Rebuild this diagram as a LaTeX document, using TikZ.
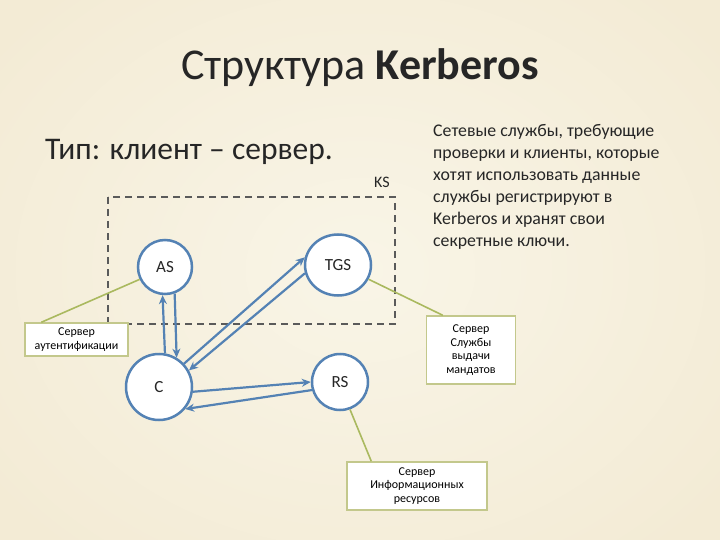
\documentclass[tikz,border=0pt]{standalone}
\usepackage{fontspec}
\setmainfont{Carlito}
\usetikzlibrary{arrows.meta,shapes.geometric}
\definecolor{bg}{RGB}{243,235,213}
\definecolor{bgc}{RGB}{249,245,231}
\definecolor{nodeblue}{RGB}{84,130,180}
\definecolor{olive}{RGB}{170,185,95}
\definecolor{boxborder}{RGB}{195,200,140}
\definecolor{txt}{RGB}{38,38,38}
\definecolor{dashgray}{RGB}{90,90,90}
\begin{document}
\begin{tikzpicture}[x=1pt,y=-1pt,
  srv/.style={ellipse, draw=nodeblue, line width=2.5pt, fill=white, text=txt,
    font=\fontsize{17}{19}\selectfont, inner sep=0pt},
  arr/.style={draw=nodeblue, line width=2.2pt, -{Stealth[length=9pt,width=8pt]}},
  callout/.style={draw=boxborder, line width=1.4pt, fill=white, text=black,
    font=\fontsize{12}{13.5}\selectfont, align=center, inner sep=1pt},
  lead/.style={draw=olive, line width=1.6pt}]
\useasboundingbox (0,0) rectangle (720,540);
\shade[inner color=bgc, outer color=bg] (-100,-100) rectangle (820,640);

% title and subtitle
\node[text=txt, font=\fontsize{44}{50}\selectfont] (title) at (360,68) {Структура \textbf{Kerberos}};
\node[text=txt, anchor=west, font=\fontsize{31.5}{36}\selectfont, inner sep=0pt] (type) at (45,152) {Тип: клиент – сервер.};

% right text block
\node[text=txt, anchor=north west, align=left, inner sep=0pt,
  font=\fontsize{17.8}{22}\selectfont] (desc) at (433,124)
  {Сетевые службы, требующие\\проверки и клиенты, которые\\хотят использовать данные\\службы регистрируют в\\Kerberos и хранят свои\\секретные ключи.};

% KS dashed region
\draw[draw=dashgray, line width=1.8pt, dash pattern=on 7pt off 5pt] (108,197) rectangle (395,324);
\node[text=txt, font=\fontsize{16}{18}\selectfont] (ks) at (382,182) {KS};

% servers
\node[srv, minimum width=54pt, minimum height=54pt] (AS) at (165,267) {AS};
\node[srv, minimum width=66pt, minimum height=61pt] (TGS) at (338,265) {TGS};
\node[srv, minimum width=66pt, minimum height=66pt] (C) at (159,387) {C};
\node[srv, minimum width=56pt, minimum height=56pt] (RS) at (340,382) {RS};

% arrows
\draw[arr] (C.80) -- (AS.265);
\draw[arr] (AS.290) -- (C.59);
\draw[arr] (C.43) -- (TGS.167);
\draw[arr] (TGS.194) -- (C.29);
\draw[arr] (C.-8) -- (RS.180);
\draw[arr] (RS.196) -- (C.-40);

% callouts
\node[callout, minimum width=103pt, minimum height=33pt] (authbox) at (76.5,339.5) {Сервер\\аутентификации};
\node[callout, minimum width=89pt, minimum height=68pt] (tgsbox) at (471,350) {Сервер\\Службы\\выдачи\\мандатов};
\node[callout, minimum width=140pt, minimum height=48pt] (rsbox) at (417,486) {Сервер\\Информационных\\ресурсов};

\draw[lead] (AS.206) -- ([xshift=17pt]authbox.north west);
\draw[lead] (TGS.-25) -- ([xshift=17pt]tgsbox.north west);
\draw[lead] (RS.-70) -- ([xshift=25pt]rsbox.north west);
\end{tikzpicture}
\end{document}
